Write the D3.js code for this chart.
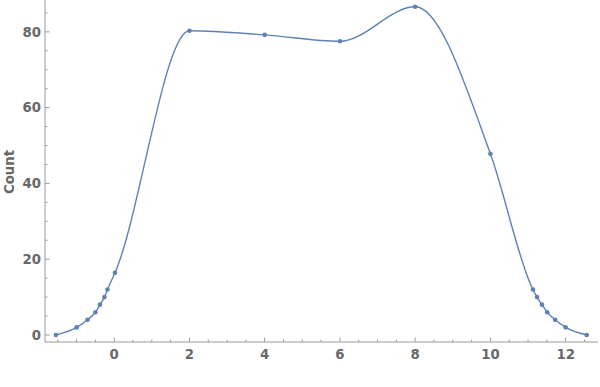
<!DOCTYPE html>
<html>
<head>
<meta charset="utf-8">
<script src="https://cdn.jsdelivr.net/npm/d3@7"></script>
<style>
  body { margin: 0; background: #fff; }
  svg text { font-family: "DejaVu Sans", sans-serif; font-weight: bold; fill: #686868; }
</style>
</head>
<body>
<svg id="chart" width="600" height="387"></svg>
<script>
// values
const xValues = [-1.55, -1, -0.71, -0.5, -0.38, -0.26, -0.18, 0.02, 2, 4, 6, 8, 10, 11.13, 11.24, 11.37, 11.51, 11.72, 12, 12.56]
const counts = [0, 2, 4, 6, 8, 10, 12, 16.4, 80.3, 79.2, 77.5, 86.6, 47.8, 12, 10, 8, 6, 4, 2, 0]
const xTicks = [0, 2, 4, 6, 8, 10, 12]
const yTicks = [0, 20, 40, 60, 80]
const yLabel = 'Count'

const svg = d3.select('#chart')
const lineColor = '#5e81b5'
const axisColor = '#999'

const x = d3.scaleLinear().domain([-1.84, 12.86]).range([45, 598])
const y = d3.scaleLinear().domain([-1.85, 88.4]).range([342, 0])

const data = xValues.map((v, i) => ({ x: v, y: counts[i] }))

// axes: major ticks with labels, minor ticks without
function drawXAxis() {
    const g = svg.append('g').attr('transform', `translate(0,${y.range()[0]})`)
    g.append('line').attr('x1', x.range()[0]).attr('x2', x.range()[1])
        .attr('stroke', axisColor)
    const minor = d3.range(-1.5, 12.9, 0.5).filter(v => !xTicks.includes(v))
    g.selectAll('.minor').data(minor).enter().append('line')
        .attr('x1', d => x(d)).attr('x2', d => x(d)).attr('y1', 0).attr('y2', -2.5)
        .attr('stroke', axisColor)
    g.selectAll('.major').data(xTicks).enter().append('line')
        .attr('x1', d => x(d)).attr('x2', d => x(d)).attr('y1', 0).attr('y2', -4.5)
        .attr('stroke', axisColor)
    g.selectAll('text').data(xTicks).enter().append('text')
        .attr('x', d => x(d)).attr('y', 17)
        .attr('text-anchor', 'middle').attr('font-size', 13.3)
        .text(d => d)
}

function drawYAxis() {
    const g = svg.append('g').attr('transform', `translate(${x.range()[0]},0)`)
    g.append('line').attr('y1', y.range()[0]).attr('y2', y.range()[1])
        .attr('stroke', axisColor)
    const minor = d3.range(0, 88, 5).filter(v => !yTicks.includes(v))
    g.selectAll('.minor').data(minor).enter().append('line')
        .attr('y1', d => y(d)).attr('y2', d => y(d)).attr('x1', 0).attr('x2', 2.5)
        .attr('stroke', axisColor)
    g.selectAll('.major').data(yTicks).enter().append('line')
        .attr('y1', d => y(d)).attr('y2', d => y(d)).attr('x1', 0).attr('x2', 4.5)
        .attr('stroke', axisColor)
    g.selectAll('text').data(yTicks).enter().append('text')
        .attr('x', -4).attr('y', d => y(d)).attr('dy', '0.36em')
        .attr('text-anchor', 'end').attr('font-size', 13.3)
        .text(d => d)
    svg.append('text')
        .attr('transform', 'translate(14,172) rotate(-90)')
        .attr('text-anchor', 'middle').attr('font-size', 13.3)
        .text(yLabel)
}

drawXAxis()
drawYAxis()

const line = d3.line()
    .x(d => x(d.x))
    .y(d => y(d.y))
    .curve(d3.curveMonotoneX)

svg.append('path')
    .datum(data)
    .attr('d', line)
    .attr('fill', 'none')
    .attr('stroke', lineColor)
    .attr('stroke-width', 1.4)

svg.selectAll('circle').data(data).enter().append('circle')
    .attr('cx', d => x(d.x))
    .attr('cy', d => y(d.y))
    .attr('r', 2.3)
    .attr('fill', lineColor)
</script>
</body>
</html>
